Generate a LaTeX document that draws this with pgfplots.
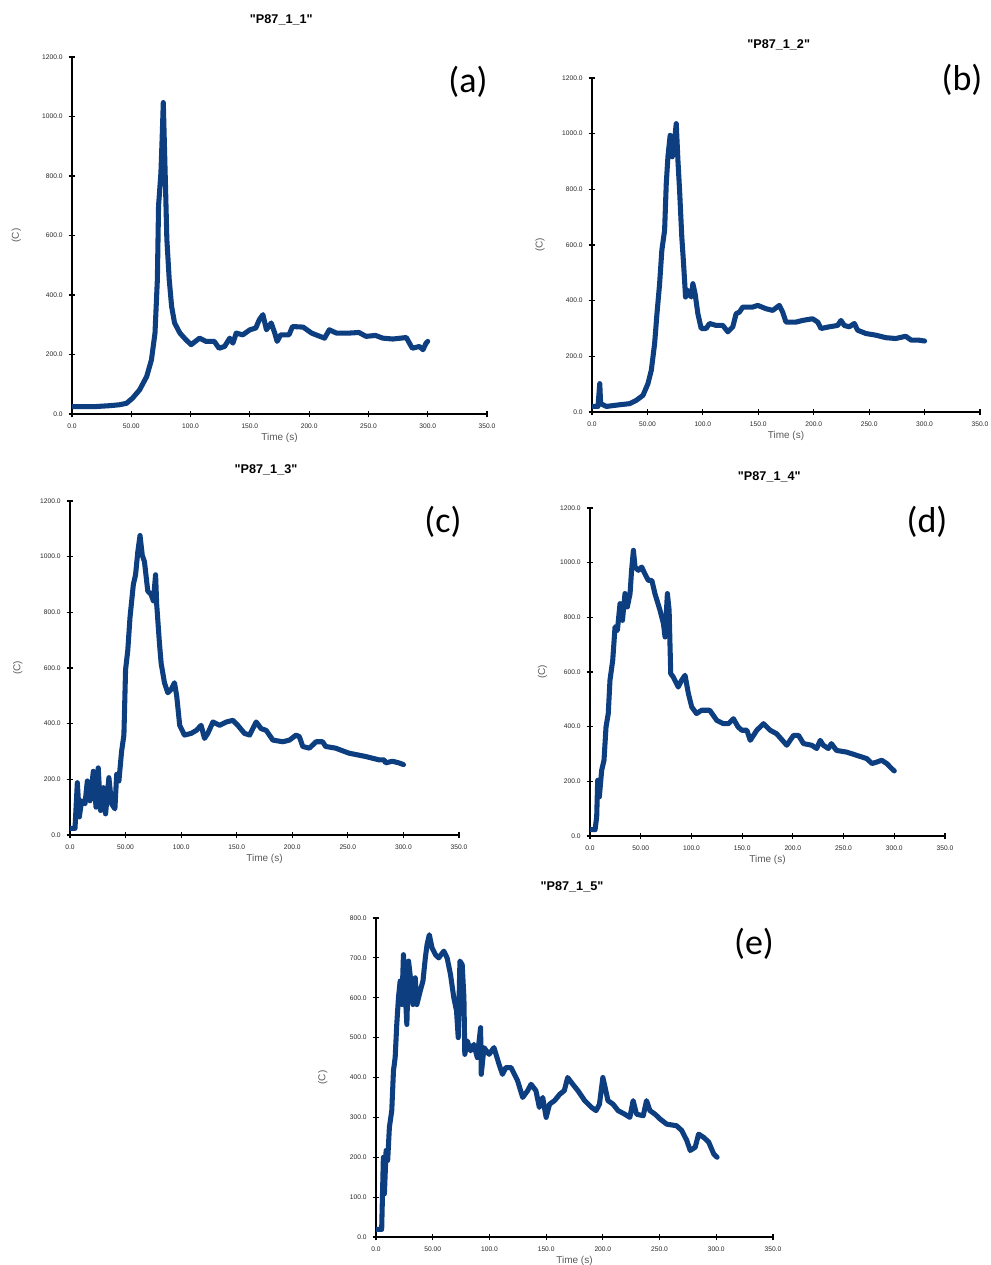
\documentclass[border=0pt]{standalone}
\usepackage{fontspec}
\setmainfont{Liberation Sans}
\newfontfamily\titlefont{Liberation Sans}[Ligatures=TeXOff]
\newfontfamily\calib{Carlito}
\usepackage{pgfplots}
\pgfplotsset{compat=1.18}
\definecolor{curve}{RGB}{12,62,128}
\pgfplotsset{
  panel/.style={
    scale only axis, anchor=south west,
    axis lines=left, axis line style={-, line width=1.1pt, black},
    xmin=0, xmax=350, ymin=0, ymax=1200,
    xtick={0,50,...,350},
    xticklabels={0.0,50.00,100.0,150.0,200.0,250.0,300.0,350.0},
    ytick={0,200,...,1200},
    yticklabels={0.0,200.0,400.0,600.0,800.0,1000.0,1200.0},
    tick align=center, major tick length=5pt,
    tick style={line width=0.9pt, black},
    /pgf/number format/assume math mode=true,
    tick label style={font=\fontsize{5}{6}\selectfont, text=black!85},
    xticklabel style={yshift=-1pt},
    yticklabel style={xshift=-1pt},
    xlabel={Time (s)}, ylabel={(C)},
    label style={font=\fontsize{7.5}{9}\selectfont, text=black!65},
    xlabel style={at={(axis description cs:0.5,0)}, anchor=center, yshift=-18pt},
    ylabel style={at={(axis description cs:-0.134,0.5)}, anchor=center, rotate=0},
  },
  curvestyle/.style={color=curve, line width=3.8pt, line join=round, line cap=round, mark=none},
}
\begin{document}
\begin{tikzpicture}
\useasboundingbox (0,0) rectangle (742.5pt,948.75pt);
% (a)
\begin{axis}[panel, at={(54pt,638.25pt)}, width=311.25pt, height=267.75pt]
\addplot[curvestyle] coordinates {
(0,25) (10,25) (20,25) (32,28) (40,31) (46,36) (51,53) (57,81) (63,126) (67,182) (70,272) (72,452) (73,700) (75,811) (76,924) (77,1047)
(79,744) (80,587) (82,452) (84,362) (86.5,306) (91,272) (96,250) (100.5,233) (107.6,255) (113,244) (120,244) (124,221) (128.7,227)
(133,255) (135.7,238) (138.5,272) (144,266) (150,283) (155,289) (158,317) (161,334) (164,283) (168,306) (171,272) (173,244) (176,266)
(183,266) (186,294) (195,292) (202,272) (209,261) (213,255) (217,283) (223,272) (234,272) (242,274) (248,261) (256,264) (262,255)
(270.5,252) (282,257) (284.6,238) (287,221) (293,227) (296,216) (298.6,238) (300,244)
};
\end{axis}
% (b)
\begin{axis}[panel, at={(444pt,639.75pt)}, width=291pt, height=250.5pt]
\addplot[curvestyle] coordinates {
(0,20) (5.4,20) (7,102) (7.8,30) (13,20) (25,26) (34,30) (40,42) (46,60) (50.5,102) (53.5,150) (56.5,246) (58.6,353) (61,461)
(63,581) (65.5,653) (67,821) (68.5,917) (70.5,994) (72.4,917) (74.5,976) (76,1036) (77.5,905) (79,797) (81,629) (82.6,533)
(84.4,413) (86.5,437) (89.5,413) (91,461) (93,425) (95.5,353) (98.5,300) (103,300) (106,318) (112,311) (118,311) (122.5,288)
(127,306) (130,353) (133,359) (136,377) (145,377) (149.5,383) (157,371) (163,365) (169,383) (172,359) (175,323) (184,323)
(190,329) (199,335) (203.6,323) (206.6,300) (214,306) (221.6,311) (224.6,329) (227.6,311) (232,306) (236.6,318) (239.6,294)
(247,282) (256,276) (265,267) (274,264) (283,272) (288,258) (295,258) (300,255)
};
\end{axis}
% (c)
\begin{axis}[panel, at={(52.5pt,322.5pt)}, width=291.75pt, height=250.5pt]
\addplot[curvestyle] coordinates {
(0,24) (4.5,24) (6.6,188) (8.4,65) (10.5,123) (13.5,112) (15.6,194) (18,123) (21,229) (23.4,100) (25.4,241) (27.5,88) (30,170)
(32,76) (35,206) (37.4,112) (40.4,94) (42,218) (44,194) (46.4,300) (48.5,359) (50,594) (52,664) (54,782) (57,900) (59,935)
(61,1017) (63,1076) (65,1006) (67,982) (70,876) (73,864) (75,841) (77,935) (78,829) (80.5,688) (82,617) (85,547) (88,511)
(91,523) (94,547) (96,500) (98.7,394) (103,359) (109,365) (113.7,376) (118,394) (121,347) (124,365) (128.6,406) (134.6,394)
(140.6,406) (146.6,412) (151,394) (157,365) (161.6,359) (167.5,406) (172,382) (176.5,376) (182.5,341) (191.5,335) (197.5,341)
(203.4,359) (206.4,353) (209.4,318) (215.4,312) (221.4,335) (227.3,335) (230,318) (239,312) (251,294) (266,282) (278,270)
(282.6,270) (284,259) (290,265) (296,259) (300,253)
};
\end{axis}
% (d)
\begin{axis}[panel, at={(442.5pt,321.75pt)}, width=266.25pt, height=246pt]
\addplot[curvestyle] coordinates {
(0,23) (5,23) (6.6,70) (7.6,204) (9.2,143) (11.5,240) (13.8,277) (15.8,399) (18,448) (19.7,570) (22.4,643) (24.7,765) (27,752)
(29.6,850) (32,789) (34.5,887) (36.8,838) (39.5,887) (41,972) (42.8,1045) (44.4,984) (47.7,972) (51,984) (54,960) (57.5,935)
(61,935) (64,887) (69,826) (72.4,777) (74,728) (76.3,887) (78,826) (79.6,594) (82,582) (87,545) (90.4,570) (93.7,588) (97,521)
(100.3,472) (105,448) (110,460) (118,460) (125,423) (131.5,411) (136.5,411) (141.4,429) (146,399) (149.6,387) (154.6,387)
(158,350) (164.5,387) (171,411) (177.6,387) (184,374) (194,332) (200.6,368) (205.6,368) (210.5,338) (218.6,332) (223.5,320)
(227,350) (230,332) (235,320) (238,338) (243,313) (253,307) (263,295) (273,283) (278,265) (283,271) (287.6,277) (292.6,265)
(297.6,246) (300,238)
};
\end{axis}
% (e)
\begin{axis}[panel, at={(282pt,21pt)}, width=297.75pt, height=239.25pt,
  ymax=800, ytick={0,100,...,800},
  yticklabels={0.0,100.0,200.0,300.0,400.0,500.0,600.0,700.0,800.0}]
\addplot[curvestyle] coordinates {
(0,19) (5,19) (6.5,200) (7.4,108) (8.9,217) (10.3,192) (11.8,275) (13.9,317) (15.4,417) (16.9,450) (18.3,533) (19.8,600)
(21.3,642) (22.8,583) (24.2,708) (25.7,617) (27.2,533) (28.7,692) (30.7,642) (32.5,583) (34.6,650) (36,583) (39,617) (41.4,642)
(43.5,700) (45,733) (47,758) (49.4,725) (52.4,708) (55.3,700) (59.8,717) (62.7,700) (65.7,658) (68.6,600) (71,567) (72.5,500)
(74,692) (76,683) (77.5,600) (78.3,458) (80.4,492) (83.4,467) (86.3,483) (89.3,450) (92.2,525) (92.8,408) (95.2,475) (99.7,458)
(104,475) (108.5,433) (111.5,408) (114.5,425) (119,425) (124.8,392) (129.3,350) (133.7,367) (136.7,383) (141,367) (144,325)
(147,350) (150,300) (153,333) (157.4,342) (162,358) (166,367) (169,400) (173.5,383) (178,367) (184,342) (190,325) (194,317)
(197,333) (200,400) (202,375) (204.5,342) (209,333) (213.4,317) (219.3,308) (223.8,300) (226.7,342) (229.7,308) (235.6,304)
(238.5,342) (241.5,317) (246,308) (250.4,296) (256.3,283) (265,279) (269.6,267) (274,242) (277,217) (281.4,225) (284.4,258)
(288.8,250) (293.3,238) (297.8,208) (300.7,200)
};
\end{axis}
% titles
\node[font=\titlefont\bfseries\fontsize{9.5}{11}\selectfont] at (211pt,933.75pt) {"P87\_1\_1"};
\node[font=\titlefont\bfseries\fontsize{9.5}{11}\selectfont] at (584pt,915pt) {"P87\_1\_2"};
\node[font=\titlefont\bfseries\fontsize{9.5}{11}\selectfont] at (199.5pt,596.25pt) {"P87\_1\_3"};
\node[font=\titlefont\bfseries\fontsize{9.5}{11}\selectfont] at (577pt,591pt) {"P87\_1\_4"};
\node[font=\titlefont\bfseries\fontsize{9.5}{11}\selectfont] at (429pt,283.5pt) {"P87\_1\_5"};
% panel letters
\node[font=\calib\fontsize{27}{30}\selectfont] at (351pt,887pt) {(a)};
\node[font=\calib\fontsize{27}{30}\selectfont] at (721.5pt,888.75pt) {(b)};
\node[font=\calib\fontsize{27}{30}\selectfont] at (332.25pt,557.25pt) {(c)};
\node[font=\calib\fontsize{27}{30}\selectfont] at (695.25pt,557.25pt) {(d)};
\node[font=\calib\fontsize{27}{30}\selectfont] at (565.5pt,240.75pt) {(e)};
\end{tikzpicture}
\end{document}
